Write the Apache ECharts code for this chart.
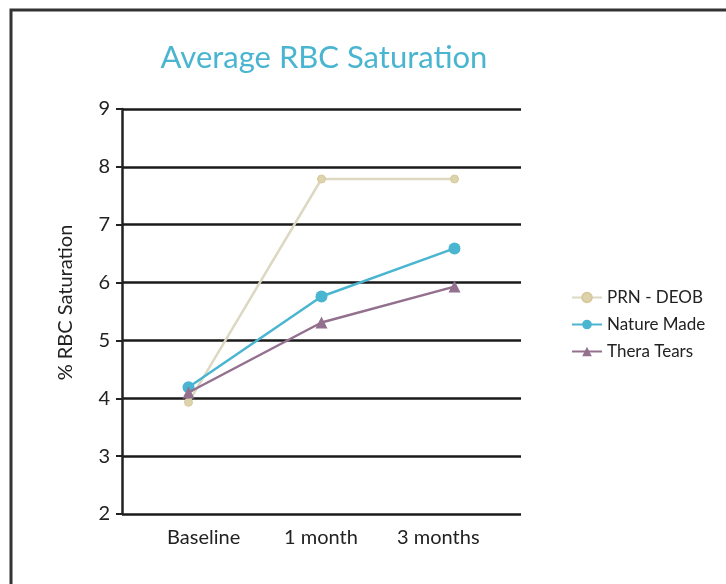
<!DOCTYPE html>
<html>
<head>
<meta charset="utf-8">
<script src="https://cdn.jsdelivr.net/npm/echarts@6/dist/echarts.min.js"></script>
<style>
  html, body { margin: 0; padding: 0; background: #fff; }
  #chart { width: 726px; height: 584px; }
</style>
</head>
<body>
<div id="chart"></div>
<script>
var categories = ['Baseline', '1 month', '3 months'];
var prnDeob = [3.93, 7.79, 7.79];
var natureMade = [4.19, 5.76, 6.59];
var theraTears = [4.1, 5.31, 5.93];

var font = 'Lato, "Open Sans", sans-serif';

var chart = echarts.init(document.getElementById('chart'));

chart.setOption({
    animation: false,
    backgroundColor: '#fff',
    title: {
        text: 'Average RBC Saturation',
        left: 319,
        top: 37,
        textAlign: 'center',
        textStyle: { color: '#4ab5d1', fontSize: 31, fontWeight: 'normal', fontFamily: font }
    },
    graphic: [{
        type: 'rect',
        shape: { x: 11, y: 10, width: 760, height: 620 },
        style: { fill: 'none', stroke: '#333', lineWidth: 3 },
        z: 100
    }],
    legend: {
        orient: 'vertical',
        left: 566,
        top: 284,
        itemGap: 10,
        itemWidth: 30,
        itemHeight: 12,
        textStyle: { color: '#222', fontSize: 17, fontFamily: font },
        data: ['PRN - DEOB', 'Nature Made', 'Thera Tears']
    },
    // second grid only carries the category labels, which sit a bit tighter than the points
    grid: [
        { left: 122, top: 109, width: 399, height: 405 },
        { left: 145, top: 109, width: 352, height: 405 }
    ],
    xAxis: [{
        type: 'category',
        gridIndex: 0,
        data: categories,
        axisLine: { show: false },
        axisTick: { show: false },
        axisLabel: { show: false }
    }, {
        type: 'category',
        gridIndex: 1,
        data: categories,
        axisLine: { show: false },
        axisTick: { show: false },
        axisLabel: { color: '#222', fontSize: 20, fontFamily: font, margin: 14 }
    }],
    yAxis: [{
        type: 'value',
        gridIndex: 0,
        min: 2,
        max: 9,
        interval: 1,
        name: '% RBC Saturation',
        nameLocation: 'middle',
        nameGap: 46,
        nameTextStyle: { color: '#222', fontSize: 20, fontFamily: font, padding: [0, 0, 0, 18] },
        axisLine: { show: true, lineStyle: { color: '#222', width: 2.5 } },
        axisTick: { show: true, length: 6, lineStyle: { color: '#222', width: 2 } },
        axisLabel: { color: '#222', fontSize: 20, fontFamily: font, margin: 12 },
        splitLine: { show: true, lineStyle: { color: '#1a1a1a', width: 2.5 } }
    }, {
        type: 'value',
        gridIndex: 1,
        min: 2,
        max: 9,
        show: false
    }],
    series: [{
        name: 'PRN - DEOB',
        type: 'line',
        data: prnDeob,
        symbol: 'circle',
        symbolSize: 8,
        itemStyle: { color: '#ddd3ad', borderColor: '#d8c99a', borderWidth: 1 },
        lineStyle: { color: '#ddd8c2', width: 2.5 },
        z: 3
    }, {
        name: 'Nature Made',
        type: 'line',
        data: natureMade,
        symbol: 'circle',
        symbolSize: 12,
        itemStyle: { color: '#4ab5d1' },
        lineStyle: { color: '#4ab5d1', width: 2.5 },
        z: 4
    }, {
        name: 'Thera Tears',
        type: 'line',
        data: theraTears,
        symbol: 'triangle',
        symbolSize: 12,
        itemStyle: { color: '#94708f' },
        lineStyle: { color: '#94708f', width: 2.5 },
        z: 5
    }]
});
</script>
</body>
</html>
